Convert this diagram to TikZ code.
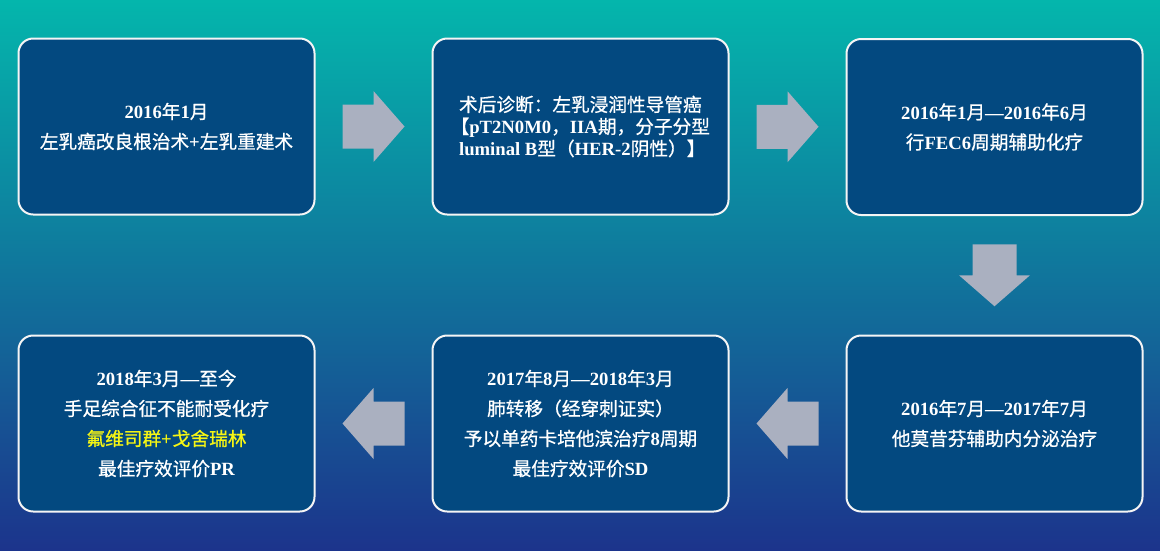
\documentclass[tikz,border=0pt]{standalone}
\usepackage{fontspec}
\setmainfont{Liberation Serif}
\newfontfamily\cjk[FakeBold=0.8]{Noto Sans CJK SC}
\usetikzlibrary{calc}

\definecolor{bgtop}{RGB}{4,182,172}
\definecolor{bgmid}{RGB}{8,122,150}
\definecolor{bgbot}{RGB}{28,52,140}
\definecolor{boxblue}{RGB}{3,73,128}
\definecolor{arrowgray}{RGB}{170,176,192}
\definecolor{hilite}{RGB}{245,245,20}

\newcommand{\zh}[1]{{\cjk\mdseries #1}}
% block arrow, #1 = centre, #2 = angle
\newcommand{\flowarrow}[2]{%
  \begin{scope}[shift={(#1)}, rotate=#2]
    \fill[arrowgray] (-31,-22) -- (0,-22) -- (0,-35.5) -- (31,0)
      -- (0,35.5) -- (0,22) -- (-31,22) -- cycle;
  \end{scope}}

\begin{document}
\begin{tikzpicture}[x=0.75pt, y=-0.75pt,
    stepbox/.style={draw=white!92!gray, line width=1.5pt, fill=boxblue,
      rounded corners=11pt, minimum width=222pt, minimum height=132pt,
      text=white, align=center, inner sep=0pt,
      font=\fontsize{14}{22.5}\selectfont\bfseries}]
    \useasboundingbox (0,0) rectangle (1160,550);
    \shade[top color=bgtop, middle color=bgmid, bottom color=bgbot]
      (0,0) rectangle (1160,550);

    \node[stepbox] (surgery) at (166.5,126.5)
      {2016\zh{年}1\zh{月}\\ \zh{左乳癌改良根治术}+\zh{左乳重建术}};
    \node[stepbox, align=left, font=\fontsize{14}{16.5}\selectfont\bfseries] (diag) at (580.5,126.5)
      {\hspace*{6pt}\zh{术后诊断：左乳浸润性导管癌}\\
       \hspace*{6pt}\hspace*{-0.45em}\zh{【}pT2N0M0\zh{，}IIA\zh{期，分子分型}\\
       \hspace*{6pt}luminal B\zh{型（}HER-2\zh{阴性）】}};
    \node[stepbox] (chemo) at (994.5,127)
      {2016\zh{年}1\zh{月}---2016\zh{年}6\zh{月}\\ \zh{行}FEC6\zh{周期辅助化疗}};
    \node[stepbox] (endo) at (994.5,423.5)
      {2016\zh{年}7\zh{月}---2017\zh{年}7\zh{月}\\ \zh{他莫昔芬辅助内分泌治疗}};
    \node[stepbox] (lung) at (580.5,423.5)
      {2017\zh{年}8\zh{月}---2018\zh{年}3\zh{月}\\
       \zh{肺转移（经穿刺证实）}\\
       \zh{予以单药卡培他滨治疗}8\zh{周期}\\
       \zh{最佳疗效评价}SD};
    \node[stepbox] (now) at (166.5,423.5)
      {2018\zh{年}3\zh{月}---\zh{至今}\\
       \zh{手足综合征不能耐受化疗}\\
       \textcolor{hilite}{\zh{氟维司群}+\zh{戈舍瑞林}}\\
       \zh{最佳疗效评价}PR};

    \flowarrow{$(surgery.east)!0.5!(diag.west)$}{0}
    \flowarrow{$(diag.east)!0.5!(chemo.west)$}{0}
    \flowarrow{$(chemo.south)!0.5!(endo.north)$}{-90}
    \flowarrow{$(endo.west)!0.5!(lung.east)$}{180}
    \flowarrow{$(lung.west)!0.5!(now.east)$}{180}
\end{tikzpicture}
\end{document}
